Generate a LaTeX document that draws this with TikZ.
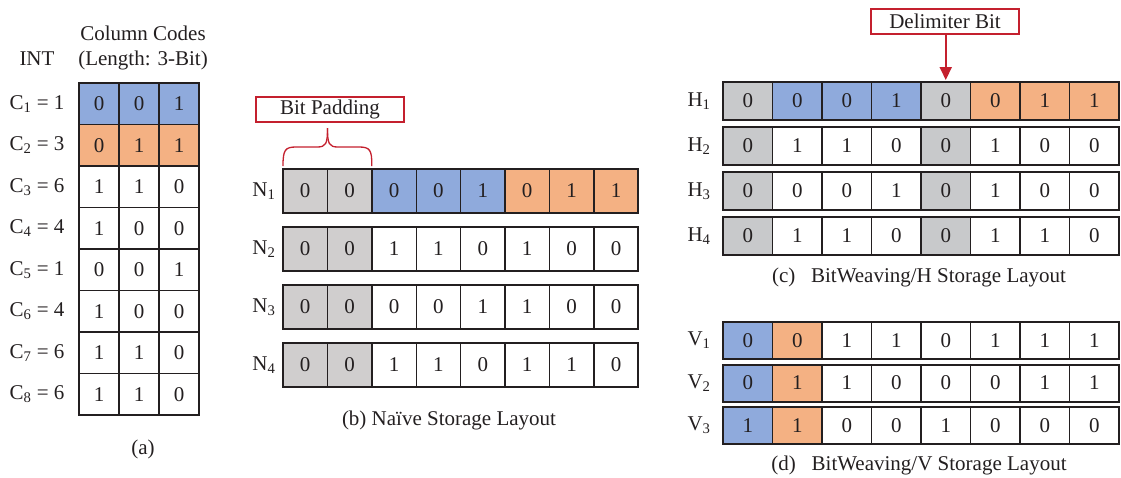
\documentclass[tikz,border=0pt]{standalone}
\usepackage{fontspec}
\setmainfont{Liberation Serif}
\usetikzlibrary{arrows.meta,calc}

\definecolor{ink}{RGB}{35,31,32}
\definecolor{cblue}{RGB}{143,170,220}
\definecolor{corange}{RGB}{244,177,131}
\definecolor{cpad}{RGB}{208,206,206}
\definecolor{cdelim}{RGB}{200,201,203}
\definecolor{cred}{RGB}{196,32,46}

\tikzset{
  cell/.style={draw=ink, line width=1.4pt, inner sep=0pt, outer sep=0pt,
    text=ink, font=\fontsize{21}{24}\selectfont},
  rowlabel/.style={inner sep=0pt, text=ink, font=\fontsize{21}{24}\selectfont},
  caption/.style={inner sep=0pt, text=ink, font=\fontsize{21}{24}\selectfont},
  callout/.style={draw=cred, line width=1.3pt, inner sep=0pt, text=ink,
    font=\fontsize{21}{24}\selectfont},
  redline/.style={draw=cred, line width=1.3pt},
}

\begin{document}
\begin{tikzpicture}[x=1pt, y=-1pt]
\useasboundingbox (0,0) rectangle (1121,477);

% ---------- (a) integer column and its 3-bit codes ----------
\node[rowlabel] (intlabel) at (37,59) {INT};
\node[rowlabel, align=center] (codeslabel) at (143,48)
  {Column Codes\\[1pt](Length: 3-Bit)};
\foreach \r/\bits/\val/\col in {
    1/{0,0,1}/1/cblue, 2/{0,1,1}/3/corange, 3/{1,1,0}/6/white,
    4/{1,0,0}/4/white, 5/{0,0,1}/1/white, 6/{1,0,0}/4/white,
    7/{1,1,0}/6/white, 8/{1,1,0}/6/white} {
  \node[rowlabel] (c\r) at (37,{83+41.5*(\r-0.5)}) {C\textsubscript{\r} = \val};
  \foreach \b [count=\c] in \bits {
    \node[cell, fill=\col, minimum width=40pt, minimum height=41.5pt]
      (a-\r-\c) at ({79+40*(\c-0.5)},{83+41.5*(\r-0.5)}) {\b};
  }
}
\draw[ink, line width=2pt] (a-1-1.north west) rectangle (a-8-3.south east);
\node[caption] (capa) at (143,449) {(a)};

% ---------- (b) naive layout with bit padding ----------
\foreach \r/\cells in {
    1/{0/cpad,0/cpad,0/cblue,0/cblue,1/cblue,0/corange,1/corange,1/corange},
    2/{0/cpad,0/cpad,1/white,1/white,0/white,1/white,0/white,0/white},
    3/{0/cpad,0/cpad,0/white,0/white,1/white,1/white,0/white,0/white},
    4/{0/cpad,0/cpad,1/white,1/white,0/white,1/white,1/white,0/white}} {
  \node[rowlabel] (n\r) at (264,{169+58*(\r-1)+22}) {N\textsubscript{\r}};
  \foreach \b/\col [count=\c] in \cells {
    \node[cell, fill=\col, minimum width=44.4pt, minimum height=44pt]
      (b-\r-\c) at ({283+44.4*(\c-0.5)},{169+58*(\r-1)+22}) {\b};
  }
  \draw[ink, line width=2pt] (b-\r-1.north west) rectangle (b-\r-8.south east);
}
\node[caption] (capb) at (449,420) {(b) Naïve Storage Layout};

% bit padding callout with its brace
\node[callout, minimum width=148pt, minimum height=25pt] (padbox) at (330,109.5) {Bit Padding};
\coordinate (bl) at ($(b-1-1.north west)+(0,-3)$);
\coordinate (br) at ($(b-1-2.north east)+(0,-3)$);
\coordinate (btip) at (327.5,128);
\draw[redline] (bl) .. controls (283,150) and (285,147) .. (296,147)
  -- (317,147) .. controls (326,147) and (327.5,144) .. (btip);
\draw[redline] (br) .. controls (372,150) and (370,147) .. (359,147)
  -- (338,147) .. controls (329,147) and (327.5,144) .. (btip);

% ---------- (c) BitWeaving/H ----------
\foreach \r/\cells in {
    1/{0/cdelim,0/cblue,0/cblue,1/cblue,0/cdelim,0/corange,1/corange,1/corange},
    2/{0/cdelim,1/white,1/white,0/white,0/cdelim,1/white,0/white,0/white},
    3/{0/cdelim,0/white,0/white,1/white,0/cdelim,1/white,0/white,0/white},
    4/{0/cdelim,1/white,1/white,0/white,0/cdelim,1/white,1/white,0/white}} {
  \node[rowlabel] (h\r) at (699,{82+45*(\r-1)+19}) {H\textsubscript{\r}};
  \foreach \b/\col [count=\c] in \cells {
    \node[cell, fill=\col, minimum width=49.5pt, minimum height=38pt]
      (h-\r-\c) at ({723+49.5*(\c-0.5)},{82+45*(\r-1)+19}) {\b};
  }
  \draw[ink, line width=2pt] (h-\r-1.north west) rectangle (h-\r-8.south east);
}
\node[caption] (capc) at (919,277) {(c)\hspace{0.5em} BitWeaving/H Storage Layout};

% delimiter bit callout
\node[callout, minimum width=148pt, minimum height=25pt] (delimbox) at (945,21.5) {Delimiter Bit};
\draw[redline, line width=2pt, -{Triangle[width=12pt,length=13pt]}, shorten >=2pt]
  (delimbox.south -| h-1-5.north) -- (h-1-5.north);

% ---------- (d) BitWeaving/V ----------
\foreach \r/\cells in {
    1/{0/cblue,0/corange,1/white,1/white,0/white,1/white,1/white,1/white},
    2/{0/cblue,1/corange,1/white,0/white,0/white,0/white,1/white,1/white},
    3/{1/cblue,1/corange,0/white,0/white,1/white,0/white,0/white,0/white}} {
  \node[rowlabel] (v\r) at (699,{322+42.5*(\r-1)+18.5}) {V\textsubscript{\r}};
  \foreach \b/\col [count=\c] in \cells {
    \node[cell, fill=\col, minimum width=49.5pt, minimum height=37pt]
      (v-\r-\c) at ({723+49.5*(\c-0.5)},{322+42.5*(\r-1)+18.5}) {\b};
  }
  \draw[ink, line width=2pt] (v-\r-1.north west) rectangle (v-\r-8.south east);
}
\node[caption] (capd) at (919,465) {(d)\hspace{0.5em} BitWeaving/V Storage Layout};
\end{tikzpicture}
\end{document}
